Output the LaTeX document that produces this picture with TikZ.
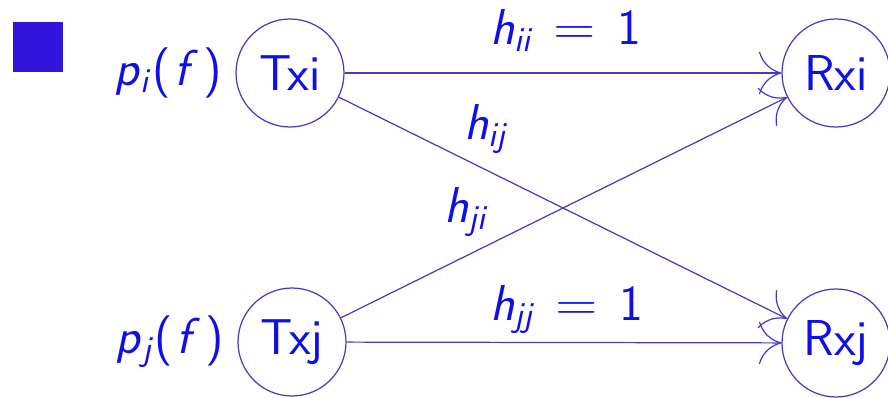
\documentclass[tikz,border=0pt]{standalone}
\usepackage{amsmath}
\usepackage{tikz}
\usetikzlibrary{arrows.meta, positioning}
\definecolor{SlideBlue}{RGB}{15, 15, 230}
\definecolor{LinkBlue}{RGB}{70, 60, 190}
\definecolor{BulletBlue}{RGB}{50, 20, 220}
% sans oblique variable with a lowered index
\newcommand{\sfvar}[2]{\textit{#1}\raisebox{-0.32ex}{\fontsize{20}{20}\selectfont\textit{#2}}}
\newcommand{\sfeq}{\hspace{0.42em}\scalebox{1.15}[1]{=}\hspace{0.42em}}

\begin{document}
\begin{tikzpicture}[x=0.02cm, y=-0.02cm,
        radio/.style={circle, draw=LinkBlue, line width=0.7pt, minimum size=2.16cm, inner sep=0pt,
            text=SlideBlue, font=\fontsize{28.7}{34}\selectfont\sffamily},
        gain/.style={text=SlideBlue, inner sep=1pt, font=\fontsize{28.7}{34}\selectfont\sffamily},
        link/.style={draw=LinkBlue, line width=0.7pt, -{To[length=0.45cm, width=0.85cm]}}]
    \useasboundingbox (0,0) rectangle (888,398);

    \fill[BulletBlue] (13,22) rectangle (63,72);

    \node[radio] (txi) at (290,73) {Txi};
    \node[radio] (txj) at (292,342) {Txj};
    \node[radio] (rxi) at (836,73) {Rxi};
    \node[radio] (rxj) at (836,343) {Rxj};

    \node[gain, left=0.22cm of txi] (pi) {\sfvar{p}{i}\kern1pt(\kern2pt\textit{f}\kern3pt)};
    \node[gain, left=0.22cm of txj] (pj) {\sfvar{p}{j}\kern1pt(\kern2pt\textit{f}\kern3pt)};

    \draw[link] (txi) -- (rxi);
    \draw[link] (txj) -- (rxj);
    \draw[link] (txi) -- (rxj);
    \draw[link] (txj) -- (rxi);

    \node[gain, anchor=base west] (hii) at (488,45) {\sfvar{h}{ii}\sfeq 1};
    \node[gain, anchor=base west] (hjj) at (488,320) {\sfvar{h}{jj}\sfeq 1};
    \node[gain, anchor=base west] (hij) at (462,140) {\sfvar{h}{ij}};
    \node[gain, anchor=base west] (hji) at (442,223) {\sfvar{h}{ji}};
\end{tikzpicture}
\end{document}
